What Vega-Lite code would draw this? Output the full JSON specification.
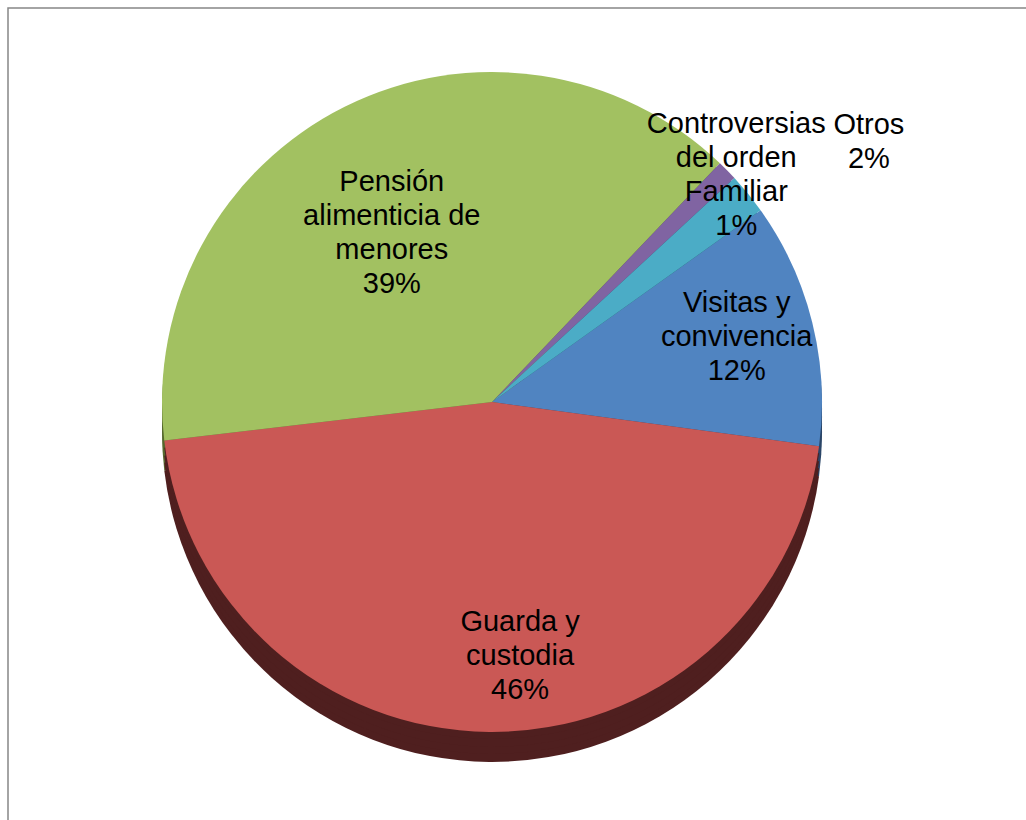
{
  "$schema": "https://vega.github.io/schema/vega-lite/v6.json",
  "width": 1018,
  "height": 812,
  "autosize": "none",
  "padding": {"left": 8, "top": 8, "right": 0, "bottom": 0},
  "background": "white",
  "config": {"view": {"stroke": null}},
  "layer": [
    {
      "data": {"values": [{"frame": "border"}]},
      "mark": {"type": "rect", "fill": null, "stroke": "#878787", "strokeWidth": 1.5},
      "encoding": {
        "x": {"datum": 0, "type": "quantitative", "scale": {"domain": [0, 1]}, "axis": null},
        "x2": {"datum": 1.02},
        "y": {"datum": -0.02, "type": "quantitative", "scale": {"domain": [0, 1]}, "axis": null},
        "y2": {"datum": 1}
      }
    },
    {
      "data": {
        "values": [
          {"cat": "Visitas y convivencia", "ord": 1, "value": 12, "label": "Visitas y\nconvivencia\n12%"},
          {"cat": "Guarda y custodia", "ord": 2, "value": 46, "label": "Guarda y\ncustodia\n46%"},
          {"cat": "Pensión alimenticia de menores", "ord": 3, "value": 39, "label": "Pensión\nalimenticia de\nmenores\n39%"},
          {"cat": "Controversias del orden Familiar", "ord": 4, "value": 1, "label": "Controversias\ndel orden\nFamiliar\n1%"},
          {"cat": "Otros", "ord": 5, "value": 2, "label": "Otros\n2%"}
        ]
      },
      "encoding": {
        "theta": {"field": "value", "type": "quantitative", "stack": true, "scale": {"range": [0.951, 7.234]}},
        "order": {"field": "ord", "type": "quantitative"}
      },
      "layer": [
        {
          "encoding": {
            "color": {
              "field": "cat", "type": "nominal", "legend": null,
              "scale": {
                "domain": ["Visitas y convivencia", "Guarda y custodia", "Pensión alimenticia de menores", "Controversias del orden Familiar", "Otros"],
                "range": ["#2b4668", "#4f1f1f", "#56692f", "#44355a", "#27606e"]
              }
            }
          },
          "layer": [
            {"mark": {"type": "arc", "radius": 330, "xOffset": -25, "yOffset": 18}},
            {"mark": {"type": "arc", "radius": 330, "xOffset": -25, "yOffset": 10}},
            {"mark": {"type": "arc", "radius": 330, "xOffset": -25, "yOffset": 3}},
            {"mark": {"type": "arc", "radius": 330, "xOffset": -25, "yOffset": -5}}
          ]
        },
        {
          "mark": {"type": "arc", "radius": 330, "xOffset": -25, "yOffset": -12},
          "encoding": {
            "color": {
              "field": "cat", "type": "nominal", "legend": null,
              "scale": {
                "domain": ["Visitas y convivencia", "Guarda y custodia", "Pensión alimenticia de menores", "Controversias del orden Familiar", "Otros"],
                "range": ["#5084c1", "#ca5855", "#a2c161", "#8064a2", "#4bacc6"]
              }
            }
          }
        },
        {
          "mark": {"type": "text", "radius": 250, "xOffset": -25, "yOffset": -12, "dx": 2, "dy": -39, "fontSize": 29, "font": "Liberation Sans", "lineBreak": "\n", "lineHeight": 34, "align": "center", "baseline": "middle", "color": "black"},
          "encoding": {"text": {"condition": {"test": "datum.ord === 1", "field": "label"}, "value": ""}}
        },
        {
          "mark": {"type": "text", "radius": 230, "xOffset": -25, "yOffset": -12, "dx": 30, "dy": -10, "fontSize": 29, "font": "Liberation Sans", "lineBreak": "\n", "lineHeight": 34, "align": "center", "baseline": "middle", "color": "black"},
          "encoding": {"text": {"condition": {"test": "datum.ord === 2", "field": "label"}, "value": ""}}
        },
        {
          "mark": {"type": "text", "radius": 220, "xOffset": -25, "yOffset": -12, "dx": -2, "dy": -23, "fontSize": 29, "font": "Liberation Sans", "lineBreak": "\n", "lineHeight": 34, "align": "center", "baseline": "middle", "color": "black"},
          "encoding": {"text": {"condition": {"test": "datum.ord === 3", "field": "label"}, "value": ""}}
        },
        {
          "mark": {"type": "text", "radius": 330, "xOffset": -25, "yOffset": -12, "dx": 9, "dy": -47, "fontSize": 29, "font": "Liberation Sans", "lineBreak": "\n", "lineHeight": 34, "align": "center", "baseline": "middle", "color": "black"},
          "encoding": {"text": {"condition": {"test": "datum.ord === 4", "field": "label"}, "value": ""}}
        },
        {
          "mark": {"type": "text", "radius": 430, "xOffset": -25, "yOffset": -12, "dx": 43.3, "dy": -6, "fontSize": 29, "font": "Liberation Sans", "lineBreak": "\n", "lineHeight": 34, "align": "center", "baseline": "middle", "color": "black"},
          "encoding": {"text": {"condition": {"test": "datum.ord === 5", "field": "label"}, "value": ""}}
        }
      ],
      "resolve": {"scale": {"color": "independent"}}
    }
  ],
  "resolve": {"scale": {"color": "independent"}}
}
